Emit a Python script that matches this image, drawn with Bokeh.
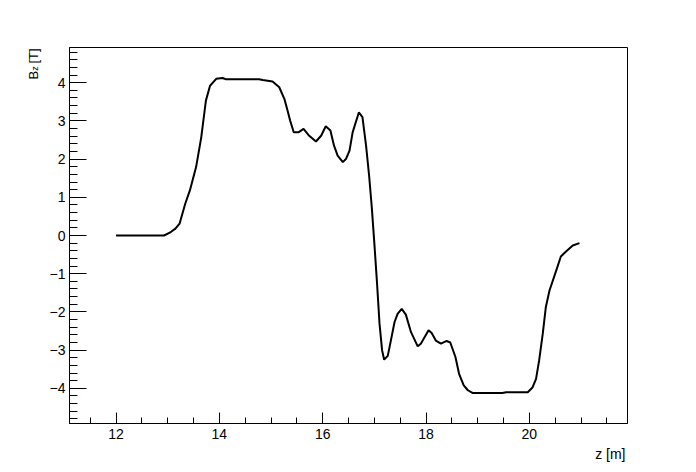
import math
from bokeh.plotting import figure
from bokeh.models import Label, SingleIntervalTicker, Range1d
from bokeh.embed import file_html
from bokeh.resources import INLINE

# Data
z_m = [12.00, 12.50, 12.93, 13.06, 13.15, 13.23, 13.34, 13.43, 13.55, 13.65,
       13.74, 13.82, 13.94, 14.06, 14.13, 14.50, 14.77, 14.84, 15.03, 15.16,
       15.26, 15.32, 15.37, 15.44, 15.53, 15.63, 15.74, 15.87, 15.97, 16.06,
       16.15, 16.22, 16.29, 16.39, 16.45, 16.52, 16.58, 16.70, 16.77, 16.84,
       16.90, 16.95, 17.00, 17.05, 17.10, 17.15, 17.19, 17.26, 17.32, 17.39,
       17.45, 17.53, 17.61, 17.71, 17.84, 17.90, 18.05, 18.11, 18.19, 18.29,
       18.40, 18.47, 18.57, 18.64, 18.73, 18.81, 18.90, 19.48, 19.55, 19.97,
       20.06, 20.13, 20.19, 20.26, 20.32, 20.39, 20.52, 20.61, 20.71, 20.84,
       20.97]
bz_T = [0.00, 0.00, 0.00, 0.09, 0.18, 0.31, 0.83, 1.18, 1.79, 2.57,
        3.53, 3.92, 4.10, 4.12, 4.09, 4.09, 4.09, 4.07, 4.03, 3.88,
        3.57, 3.27, 3.01, 2.70, 2.70, 2.79, 2.61, 2.46, 2.61, 2.86,
        2.75, 2.35, 2.09, 1.92, 2.00, 2.22, 2.70, 3.22, 3.10, 2.35,
        1.55, 0.75, -0.20, -1.20, -2.30, -3.00, -3.25, -3.15, -2.75, -2.27,
        -2.05, -1.92, -2.07, -2.53, -2.90, -2.83, -2.48, -2.55, -2.75, -2.83,
        -2.76, -2.80, -3.18, -3.62, -3.92, -4.05, -4.12, -4.12, -4.10, -4.10,
        -3.98, -3.75, -3.27, -2.57, -1.87, -1.44, -0.92, -0.55, -0.42, -0.26,
        -0.20]

y_tick_values = [-4, -3, -2, -1, 0, 1, 2, 3, 4]
y_tick_labels = ["\u22124", "\u22123", "\u22122", "\u22121", "0", "1", "2", "3", "4"]
x_label_text = "z [m]"
y_label_main = "B\u00a0\u00a0[T]"
y_label_sub = "z"

FONT = "Liberation Sans"

p = figure(width=688, height=464, output_backend="svg", toolbar_location=None,
           x_range=Range1d(11.1, 21.9), y_range=Range1d(-4.92, 4.92),
           min_border_left=69, min_border_right=61, min_border_top=47,
           min_border_bottom=41)
p.background_fill_color = "white"
p.border_fill_color = "white"
p.outline_line_color = "black"
p.outline_line_width = 1
p.xgrid.visible = False
p.ygrid.visible = False

p.line(z_m, bz_T, line_color="black", line_width=2)

xa = p.xaxis[0]
xa.ticker = SingleIntervalTicker(interval=2, num_minor_ticks=4)
xa.major_tick_in = 11
xa.major_tick_out = 0
xa.minor_tick_in = 6
xa.minor_tick_out = 0
xa.major_label_standoff = 5
xa.major_label_text_font = FONT
xa.major_label_text_font_size = "14px"
xa.major_label_text_color = "black"
xa.axis_line_color = "black"
xa.major_tick_line_color = "black"
xa.minor_tick_line_color = "black"

ya = p.yaxis[0]
ya.ticker = SingleIntervalTicker(interval=1, num_minor_ticks=5)
ya.major_tick_in = 17
ya.major_tick_out = 0
ya.minor_tick_in = 8
ya.minor_tick_out = 0
ya.major_label_standoff = 4
ya.major_label_text_font = FONT
ya.major_label_text_font_size = "14px"
ya.major_label_text_color = "black"
ya.major_label_overrides = {v: s for v, s in zip(y_tick_values, y_tick_labels)}
ya.axis_line_color = "black"
ya.major_tick_line_color = "black"
ya.minor_tick_line_color = "black"

# x title: in the right side panel (slot starts at the frame's right edge)
p.add_layout(Label(x=-2, y=-30, x_units="screen", y_units="screen",
                   text=x_label_text, text_align="right", text_baseline="alphabetic",
                   text_font=FONT, text_font_size="14px", text_color="black"), "right")

# y title "B  [T]": in the above side panel (slot starts at the frame's top-left)
p.add_layout(Label(x=-36, y=-32, x_units="screen", y_units="screen", angle=math.pi / 2,
                   text=y_label_main, text_align="left", text_baseline="alphabetic",
                   text_font=FONT, text_font_size="13px", text_color="black"), "above")

# subscript z: in the left side panel, after the axis
p.add_layout(Label(x=-1.5, y=352.7, x_units="screen", y_units="screen", angle=math.pi / 2,
                   text=y_label_sub, text_align="left", text_baseline="alphabetic",
                   text_font=FONT, text_font_size="9px", text_color="black"), "left")

open("out.html", "w").write(file_html(p, INLINE))
